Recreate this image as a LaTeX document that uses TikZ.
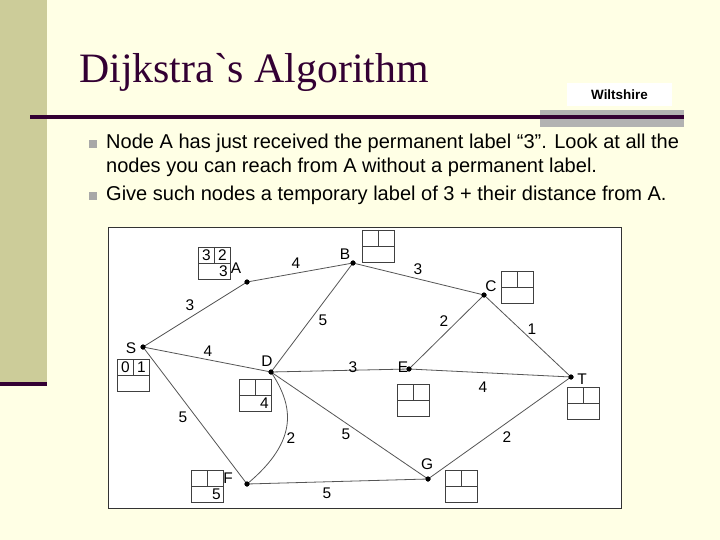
\documentclass[tikz,border=0pt]{standalone}
\usepackage{fontspec}
\setmainfont{Liberation Sans}
\newfontfamily\titlefont[Ligatures=TeXOff]{Liberation Serif}
\definecolor{bg}{RGB}{255,255,229}
\definecolor{barc}{RGB}{204,204,153}
\definecolor{darkp}{RGB}{51,0,51}
\definecolor{grayb}{RGB}{178,178,178}
\definecolor{bulletc}{RGB}{168,168,168}
\definecolor{edgec}{RGB}{85,85,85}
\tikzset{
  edge/.style={draw=edgec, line width=0.8bp},
  dot/.style={circle, fill=black, inner sep=0pt, minimum size=5bp},
  nlabel/.style={font=\fontsize{15.5}{15.5}\selectfont, inner sep=0pt},
  wlabel/.style={font=\fontsize{15.5}{15.5}\selectfont, inner sep=0pt},
  num/.style={font=\fontsize{15.5}{15.5}\selectfont, inner sep=0pt},
  boxline/.style={draw=black!75, line width=0.7bp},
  btext/.style={font=\fontsize{20.1}{20.1}\selectfont, anchor=base west, inner sep=0pt},
  pics/lbox/.style n args={3}{code={
    \draw[boxline] (0,0) rectangle (32,32);
    \draw[boxline] (0,16) -- (32,16) (16,0) -- (16,16);
    \node[num] at (8.5,8.5) {#1};
    \node[num] at (24.5,8.5) {#2};
    \node[num,anchor=east] at (30,24.5) {#3};
  }}
}
\begin{document}
\begin{tikzpicture}[x=1bp,y=-1bp]
\useasboundingbox (0,0) rectangle (720,540);
\fill[bg] (0,0) rectangle (720,540);
\fill[barc] (0,0) rectangle (47,382);
\fill[darkp] (0,382) rectangle (47,386);
% title
\node[anchor=base west, font=\titlefont\fontsize{42}{42}\selectfont, text=darkp, inner sep=0pt] (title) at (79,83) {Dijkstra`s Algorithm};
\fill[grayb] (540,110) rectangle (684,127);
\fill[darkp] (30,115) rectangle (684,119);
\node[fill=white, minimum width=105bp, minimum height=23bp, inner sep=0pt, font=\bfseries\fontsize{13.5}{13.5}\selectfont] (wilt) at (619.5,94.5) {Wiltshire};
% bullets
\fill[bulletc] (89,140) rectangle (97,148);
\fill[bulletc] (89,192) rectangle (97,200);
\node[btext] (l1) at (106,149) {Node A has just received the permanent label “3”. Look at all the};
\node[btext] (l2) at (106,173) {nodes you can reach from A without a permanent label.};
\node[btext] (l3) at (106,201) {Give such nodes a temporary label of 3 + their distance from A.};
% diagram frame
\draw[fill=white, draw=black!80, line width=0.8bp] (108,227) rectangle (621,508);
% vertices
\node[dot] (A) at (247,282) {};
\node[dot] (B) at (353,263) {};
\node[dot] (S) at (143,347) {};
\node[dot] (D) at (271,372) {};
\node[dot] (C) at (484,295) {};
\node[dot] (E) at (409,369) {};
\node[dot] (T) at (571,377) {};
\node[dot] (G) at (428,479) {};
\node[dot] (F) at (247,484) {};
% edges
\draw[edge] (S.center) -- (A.center);
\draw[edge] (A.center) -- (B.center);
\draw[edge] (B.center) -- (C.center);
\draw[edge] (B.center) -- (D.center);
\draw[edge] (S.center) -- (D.center);
\draw[edge] (C.center) -- (E.center);
\draw[edge] (C.center) -- (T.center);
\draw[edge] (D.center) -- (E.center);
\draw[edge] (E.center) -- (T.center);
\draw[edge] (S.center) -- (F.center);
\draw[edge] (D.center) .. controls (293,405) and (300,440) .. (F.center);
\draw[edge] (D.center) -- (G.center);
\draw[edge] (F.center) -- (G.center);
\draw[edge] (G.center) -- (T.center);
% redraw dots on top
\foreach \n in {A,B,S,D,C,E,T,G,F} \fill (\n) circle (2.5);
% vertex labels
\node[nlabel] (lA) at (236,268) {A};
\node[nlabel] (lB) at (345,254) {B};
\node[nlabel] (lC) at (491,286) {C};
\node[nlabel] (lS) at (131,348) {S};
\node[nlabel] (lD) at (267,361) {D};
\node[nlabel] (lE) at (403,367) {E};
\node[nlabel] (lT) at (582,379) {T};
\node[nlabel] (lF) at (228,478) {F};
\node[nlabel] (lG) at (427,464) {G};
% weights
\node[wlabel] (wSA) at (190,305) {3};
\node[wlabel] (wAB) at (296,263) {4};
\node[wlabel] (wBC) at (418,269) {3};
\node[wlabel] (wBD) at (323,320) {5};
\node[wlabel] (wSD) at (208,351) {4};
\node[wlabel] (wCE) at (444,321) {2};
\node[wlabel] (wCT) at (532,329) {1};
\node[wlabel] (wDE) at (353,367) {3};
\node[wlabel] (wET) at (483,387) {4};
\node[wlabel] (wSF) at (183,417) {5};
\node[wlabel] (wDF) at (291,438) {2};
\node[wlabel] (wDG) at (346,434) {5};
\node[wlabel] (wFG) at (327,493) {5};
\node[wlabel] (wGT) at (507,437) {2};
% label boxes
\pic (bA) at (198,247) {lbox={3}{2}{3}};
\pic (bB) at (362,230) {lbox={}{}{}};
\pic (bC) at (501,271) {lbox={}{}{}};
\pic (bS) at (117,359) {lbox={0}{1}{}};
\pic (bD) at (239,379) {lbox={}{}{4}};
\pic (bE) at (397,384) {lbox={}{}{}};
\pic (bT) at (567,387) {lbox={}{}{}};
\pic (bF) at (191,470) {lbox={}{}{5}};
\pic (bG) at (445,470) {lbox={}{}{}};
\end{tikzpicture}
\end{document}
